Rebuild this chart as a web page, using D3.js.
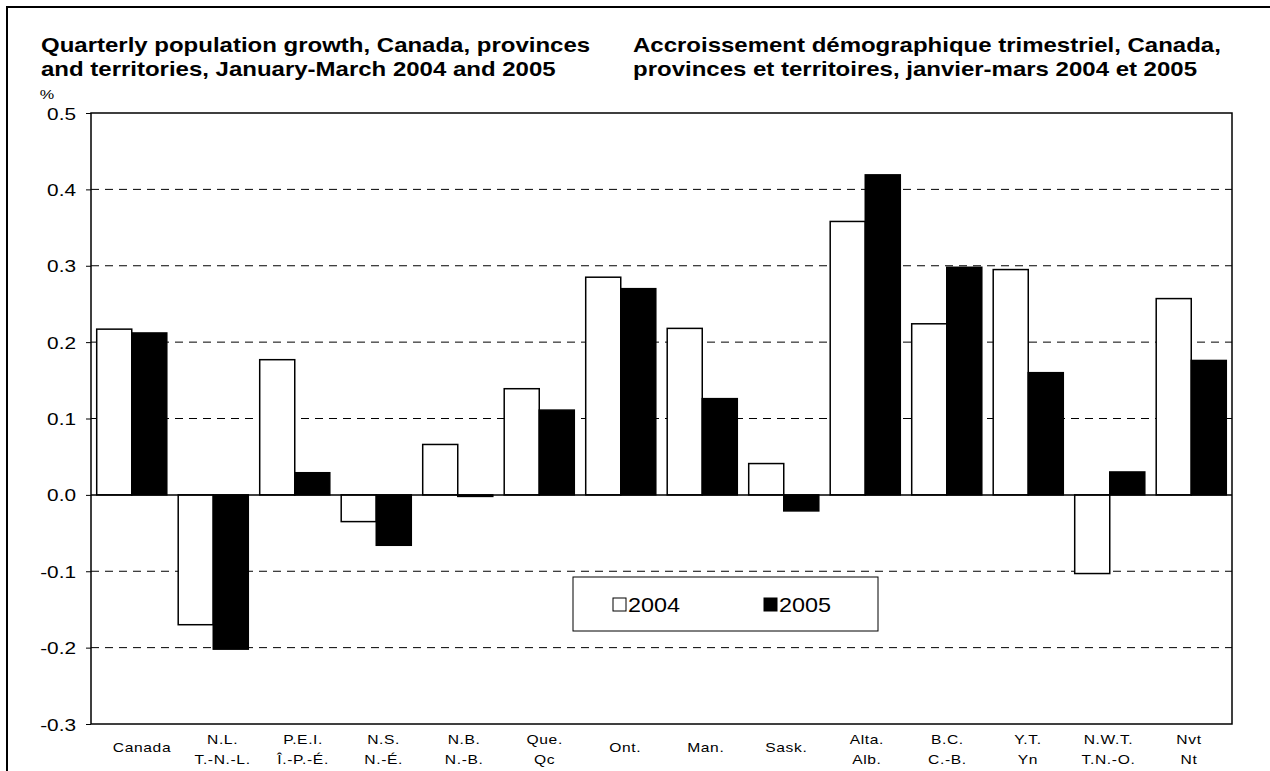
<!DOCTYPE html>
<html><head><meta charset="utf-8">
<script src="https://cdn.jsdelivr.net/npm/d3@7"></script>
<style>
body{margin:0;background:#fff;}
text{font-family:"Liberation Sans",Arial,sans-serif;fill:#000;}
</style></head>
<body>
<svg id="chart" width="1270" height="771"></svg>
<script>
const categories = ["Canada","N.L.","P.E.I.","N.S.","N.B.","Que.","Ont.","Man.","Sask.","Alta.","B.C.","Y.T.","N.W.T.","Nvt"];
const labelLine1 = ["Canada","N.L.","P.E.I.","N.S.","N.B.","Que.","Ont.","Man.","Sask.","Alta.","B.C.","Y.T.","N.W.T.","Nvt"];
const labelLine2 = ["","T.-N.-L.","Î.-P.-É.","N.-É.","N.-B.","Qc","","","","Alb.","C.-B.","Yn","T.N.-O.","Nt"];
const series = ["2004","2005"];
const values2004 = [0.217,-0.170,0.177,-0.035,0.066,0.139,0.285,0.218,0.041,0.358,0.224,0.295,-0.103,0.257];
const values2005 = [0.212,-0.202,0.029,-0.066,-0.002,0.111,0.270,0.126,-0.021,0.419,0.298,0.160,0.030,0.176];
const yTicks = [-0.3,-0.2,-0.1,0.0,0.1,0.2,0.3,0.4,0.5];
const yTickLabels = ["-0.3","-0.2","-0.1","0.0","0.1","0.2","0.3","0.4","0.5"];
const titleEn = ["Quarterly population growth, Canada, provinces","and territories, January-March 2004 and 2005"];
const titleFr = ["Accroissement démographique trimestriel, Canada,","provinces et territoires, janvier-mars 2004 et 2005"];

const SX = 1.3; // horizontal stretch of the original text rendering
const svg = d3.select("#chart");
const L = 91, R = 1232, T = 113, B = 724;

function stext(parent, x, y, str, size, opts = {}) {
  const t = parent.append("text")
    .attr("transform", `translate(${x},${y}) scale(${opts.sx || SX},1)`)
    .attr("text-anchor", opts.anchor || "start")
    .style("font-size", size + "px")
    .text(str);
  if (opts.bold) t.style("font-weight", "bold");
  if (opts.ls) t.style("letter-spacing", opts.ls + "px");
  return t;
}

// outer frame
svg.append("rect").attr("x",7).attr("y",7).attr("width",1320).attr("height",820)
  .attr("fill","none").attr("stroke","#000").attr("stroke-width",2);

// titles
titleEn.forEach((t,i)=>stext(svg, 41, 52 + i*23.5, t, 20, {bold:true, sx:1.2}));
titleFr.forEach((t,i)=>stext(svg, 633, 52 + i*23.5, t, 20, {bold:true, sx:1.2}));

const x = d3.scaleBand().domain(categories).range([L,R]).paddingInner(0.14).paddingOuter(0.07);
const xs = d3.scaleBand().domain(series).range([0,x.bandwidth()]);
const y = d3.scaleLinear().domain([-0.3,0.5]).range([B,T]);

// gridlines
svg.append("g").selectAll("line").data(yTicks.filter(v=>v!==0 && v!==0.5 && v!==-0.3)).join("line")
  .attr("x1",L).attr("x2",R).attr("y1",d=>y(d)).attr("y2",d=>y(d))
  .attr("stroke","#000").attr("stroke-width",1).attr("stroke-dasharray","8,6");

// y axis
const yAxis = d3.axisLeft(y).tickValues(yTicks)
  .tickFormat((d,i)=>yTickLabels[i]).tickSize(5).tickPadding(0);
const gy = svg.append("g").attr("transform",`translate(${L},0)`).call(yAxis);
gy.select(".domain").remove();
gy.selectAll(".tick line").attr("stroke","#000").attr("stroke-width",1);
gy.selectAll(".tick text")
  .attr("x", null).attr("dy", null)
  .attr("transform", `translate(-15,6) scale(${SX},1)`)
  .style("font-family","Liberation Sans, Arial, sans-serif").style("font-size","16px").attr("fill","#000");

stext(svg, 47, 99, "%", 12.5, {anchor:"middle"});

// bars
const data = categories.map((c,i)=>({c, vals:[{s:"2004",v:values2004[i]},{s:"2005",v:values2005[i]}]}));
const g = svg.append("g");
data.forEach(d=>{
  d.vals.forEach(b=>{
    g.append("rect")
      .attr("x",x(d.c)+xs(b.s))
      .attr("y",y(Math.max(0,b.v)))
      .attr("width",xs.bandwidth())
      .attr("height",Math.abs(y(b.v)-y(0)))
      .attr("fill",b.s==="2004"?"#fff":"#000")
      .attr("stroke","#000").attr("stroke-width",1.5);
  });
});

// zero line
svg.append("line").attr("x1",L).attr("x2",R).attr("y1",y(0)).attr("y2",y(0)).attr("stroke","#000").attr("stroke-width",1.5);

// plot border
svg.append("rect").attr("x",L).attr("y",T).attr("width",R-L).attr("height",B-T)
  .attr("fill","none").attr("stroke","#000").attr("stroke-width",1.5);

// x labels
const lx = d3.scalePoint().domain(categories).range([L+51,R-43]);
categories.forEach((c,i)=>{
  if(labelLine2[i]===""){
    stext(svg, lx(c), 752, labelLine1[i], 12.5, {anchor:"middle", ls:0.5, sx:1.25});
  } else {
    stext(svg, lx(c), 744, labelLine1[i], 12.5, {anchor:"middle", ls:0.5, sx:1.25});
    stext(svg, lx(c), 764, labelLine2[i], 12.5, {anchor:"middle", ls:0.5, sx:1.25});
  }
});

// legend
const lg = svg.append("g");
lg.append("rect").attr("x",573).attr("y",577).attr("width",305).attr("height",54).attr("fill","#fff").attr("stroke","#000").attr("stroke-width",1);
series.forEach((s,i)=>{
  const ox = 613 + i*151;
  lg.append("rect").attr("x",ox).attr("y",598).attr("width",13).attr("height",13)
    .attr("fill",i? "#000":"#fff").attr("stroke","#000").attr("stroke-width",1);
  stext(lg, ox+15, 612, s, 20, {sx:1.17});
});
</script>
</body></html>
